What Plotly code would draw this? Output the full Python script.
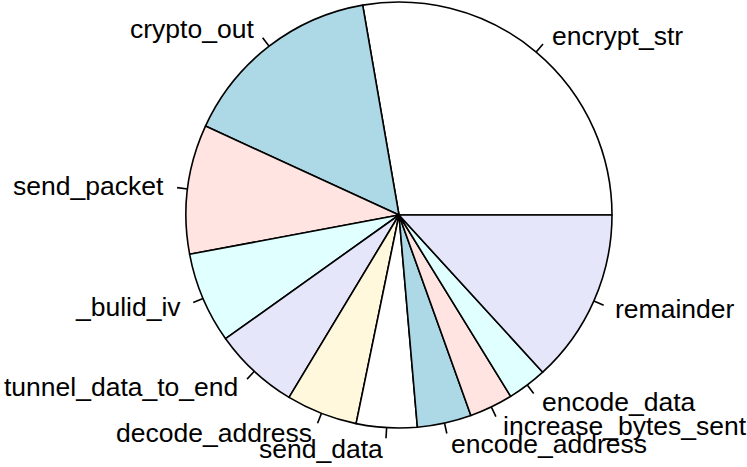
import numpy as np
import plotly.graph_objects as go

labels = ["encrypt_str", "crypto_out", "send_packet", "_bulid_iv", "tunnel_data_to_end",
          "decode_address", "send_data", "encode_address", "increase_bytes_sent",
          "encode_data", "remainder"]
values = [27.7, 15.4, 9.8, 6.9, 6.5, 5.4, 4.6, 4.1, 3.3, 3.0, 13.2]
colors = ["white", "lightblue", "mistyrose", "lightcyan", "lavender", "cornsilk",
          "white", "lightblue", "mistyrose", "lightcyan", "lavender"]

W, H = 747, 467
cx, cy, R = 399, 215, 213  # pie centre / radius in pixels

vals = np.array(values, dtype=float)
frac = vals / vals.sum()

fig = go.Figure()

# plotly places the first slice ending at `rotation` when counterclockwise,
# so shift by its size to make it start at 3 o'clock (like R's pie)
fig.add_trace(go.Pie(
    labels=labels, values=values, sort=False, direction="counterclockwise",
    rotation=90 - 360 * frac[0], textinfo="none", showlegend=False,
    marker=dict(colors=colors, line=dict(color="black", width=1.6)),
    domain=dict(x=[(cx - R) / W, (cx + R) / W], y=[(H - cy - R) / H, (H - cy + R) / H]),
))

# label ticks and texts like R's pie(): tick from 1.0 to 1.05, label at 1.1
cum = np.cumsum(frac)
mid = 2 * np.pi * (cum - frac / 2)
tx, ty = [], []
for a in mid:
    tx += [np.cos(a), 1.05 * np.cos(a), None]
    ty += [np.sin(a), 1.05 * np.sin(a), None]
fig.add_trace(go.Scatter(x=tx, y=ty, mode="lines", line=dict(color="black", width=1.6),
                         hoverinfo="skip", showlegend=False))

for lab, a in zip(labels, mid):
    fig.add_annotation(x=1.1 * np.cos(a), y=1.1 * np.sin(a), text=lab, showarrow=False,
                       xanchor="left" if np.cos(a) >= 0 else "right", yanchor="middle",
                       font=dict(family="Liberation Sans, Arial, sans-serif", size=26.5, color="black"))

fig.update_layout(
    width=W, height=H, margin=dict(l=0, r=0, t=0, b=0),
    paper_bgcolor="white", plot_bgcolor="white",
    xaxis=dict(visible=False, range=[-cx / R, (W - cx) / R], fixedrange=True),
    yaxis=dict(visible=False, range=[-(H - cy) / R, cy / R], fixedrange=True),
)

fig.write_html("out.html", config={"displayModeBar": False},
               post_script="document.body.style.margin='0';")
